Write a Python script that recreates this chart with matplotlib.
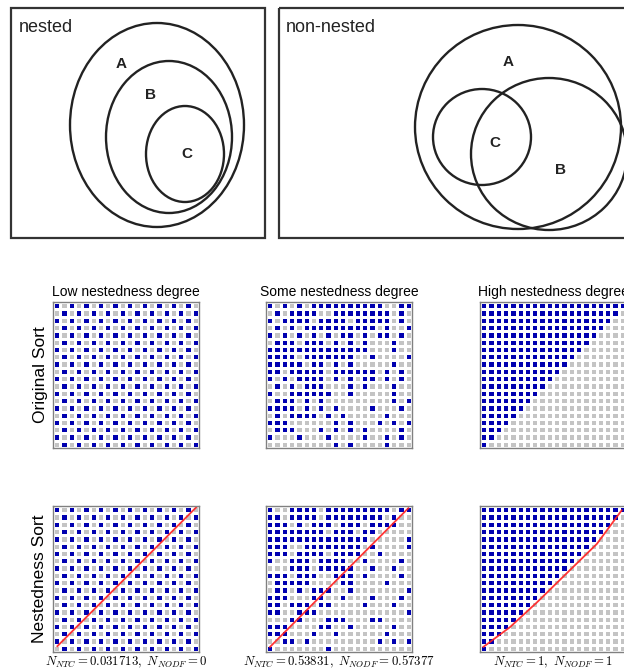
import numpy as np
import matplotlib.pyplot as plt
from matplotlib.patches import Ellipse, Rectangle
from matplotlib.colors import ListedColormap

plt.rcParams['font.family'] = ['Liberation Sans', 'DejaVu Sans']
plt.rcParams['mathtext.fontset'] = 'cm'

# ---- Venn sketches (pixel units of the top panel) ----
nested_names = ['A', 'B', 'C']
nested_cx = [157, 169, 185]
nested_cy = [125, 137, 154]
nested_w = [174, 126, 78]
nested_h = [204, 152, 96]
nested_lx = [121, 151, 187]
nested_ly = [64, 95, 154]

nonnested_names = ['A', 'C', 'B']
nonnested_cx = [518, 482, 549]
nonnested_cy = [127, 137, 154]
nonnested_w = [206, 98, 156]
nonnested_h = [204, 96, 152]
nonnested_lx = [508, 495, 560]
nonnested_ly = [62, 143, 170]

# ---- incidence matrices ----
col_titles = ['Low nestedness degree', 'Some nestedness degree', 'High nestedness degree']
row_titles = ['Original Sort', 'Nestedness Sort']
ntc = ['0.031713', '0.53831', '1']
nodf = ['0', '0.57377', '1']

low_rows = [
    '10101010101010101010', '01010101010101010101',
    '10101010101010101010', '01010101010101010101',
    '10101010101010101010', '01010101010101010101',
    '10101010101010101010', '01010101010101010101',
    '10101010101010101010', '01010101010101010101',
    '10101010101010101010', '01010101010101010101',
    '10101010101010101010', '01010101010101010101',
    '10101010101010101010', '01010101010101010101',
    '10101010101010101010', '01010101010101010101',
    '10101010101010101010', '01010101010101010101',
]

some_orig_rows = [
    '10101011111111110011',
    '01011110011111111010',
    '10111101111011111010',
    '01010111111111101001',
    '10101010101101011010',
    '01110111010101000100',
    '11111111111111000100',
    '11110111111100100001',
    '11111011010100000100',
    '11011111011111101010',
    '10101111010101101010',
    '01010111000101000100',
    '10011111100100000100',
    '01110101000000000101',
    '11110101010000100010',
    '01011110101000001000',
    '11100000010100010101',
    '01110001010101000010',
    '10001000100001001010',
    '00000000010100001000',
]

some_sort_rows = [
    '10011110111111111011',
    '11011110111111110100',
    '11101011101110111100',
    '11111111011101100000',
    '11111111111111000001',
    '11100111111110100001',
    '11101111011110010000',
    '10011101111001000010',
    '00011101111100100100',
    '11101110011101000010',
    '01111100001100001000',
    '01101011100100000001',
    '11100011001000100010',
    '11011101100001000100',
    '11001110000000000001',
    '00011000111000110000',
    '11100001100100000100',
    '11100010010000001000',
    '00110100000000010101',
    '10000000100000000000',
]

high_row_fill = [20, 19, 18, 17, 16, 15, 14, 13, 12, 11,
                 10, 9, 8, 7, 6, 5, 4, 3, 2, 1]

# red isoclines, (column, row) in cell units
low_line_x = [0.6, 19.8]
low_line_y = [19.2, 0.0]
some_line_x = [0.55, 19.5]
some_line_y = [19.3, 0.3]
high_line_x = [0.46, 4.1, 7.8, 12.3, 16.0, 19.4]
high_line_y = [19.3, 16.6, 13.2, 8.8, 5.2, 0.6]


def to_matrix(rows):
    return np.array([[int(ch) for ch in r] for r in rows])


def fill_matrix(fill):
    m = np.zeros((len(fill), len(fill)), dtype=int)
    for i, k in enumerate(fill):
        m[i, :k] = 1
    return m


low = to_matrix(low_rows)
high = fill_matrix(high_row_fill)
mats = [[low, to_matrix(some_orig_rows), high],
        [low, to_matrix(some_sort_rows), high]]
lines = [(low_line_x, low_line_y), (some_line_x, some_line_y), (high_line_x, high_line_y)]

W, H = 624, 670
fig = plt.figure(figsize=(W / 100, H / 100), dpi=100)

# top panel
ax0 = fig.add_axes([0, 1 - 250 / H, 1, 250 / H])
ax0.set_xlim(0, W)
ax0.set_ylim(250, 0)
ax0.axis('off')
ax0.add_patch(Rectangle((11, 8), 254, 230, fill=False, ec='#333333', lw=1.6))
ax0.add_patch(Rectangle((279, 8), 400, 230, fill=False, ec='#333333', lw=1.6))
for cx, cy, w, h in zip(nested_cx, nested_cy, nested_w, nested_h):
    ax0.add_patch(Ellipse((cx, cy), w, h, fill=False, ec='#222222', lw=1.7))
for cx, cy, w, h in zip(nonnested_cx, nonnested_cy, nonnested_w, nonnested_h):
    ax0.add_patch(Ellipse((cx, cy), w, h, fill=False, ec='#222222', lw=1.7))
for n, x, y in zip(nested_names, nested_lx, nested_ly):
    ax0.text(x, y, n, ha='center', va='center', fontsize=11, fontweight='bold', color='#222222')
for n, x, y in zip(nonnested_names, nonnested_lx, nonnested_ly):
    ax0.text(x, y, n, ha='center', va='center', fontsize=11, fontweight='bold', color='#222222')
ax0.text(19, 27, 'nested', ha='left', va='center', fontsize=13, color='#222222')
ax0.text(286, 27, 'non-nested', ha='left', va='center', fontsize=13, color='#222222')

# matrix panels
cmap = ListedColormap(['#c4c4c4', '#0000b0'])
grid_left = [53, 266, 480]
grid_top = [302, 506]
size = 146
for r in range(2):
    for c in range(3):
        ax = fig.add_axes([grid_left[c] / W, 1 - (grid_top[r] + size) / H, size / W, size / H])
        ax.pcolormesh(mats[r][c], cmap=cmap, vmin=0, vmax=1, edgecolors='white', linewidth=0.75)
        ax.set_xlim(0, 20)
        ax.set_ylim(20, 0)
        ax.set_xticks([])
        ax.set_yticks([])
        for s in ax.spines.values():
            s.set_color('#808080')
            s.set_linewidth(1.0)
        if r == 0:
            ax.set_title(col_titles[c], fontsize=10, pad=4)
        else:
            lx, ly = lines[c]
            ax.plot(lx, ly, color='#ff2020', lw=1.3, alpha=0.9)
            fig.text((grid_left[c] + size / 2) / W, 1 - 662 / H,
                     r'$N_{NTC} = %s,\ N_{NODF} = %s$' % (ntc[c], nodf[c]),
                     ha='center', va='center', fontsize=9.2)
        if c == 0:
            fig.text(40 / W, 1 - (grid_top[r] + size / 2) / H, row_titles[r],
                     rotation=90, ha='center', va='center', fontsize=12.5)

fig.savefig('out.png', dpi=100)
